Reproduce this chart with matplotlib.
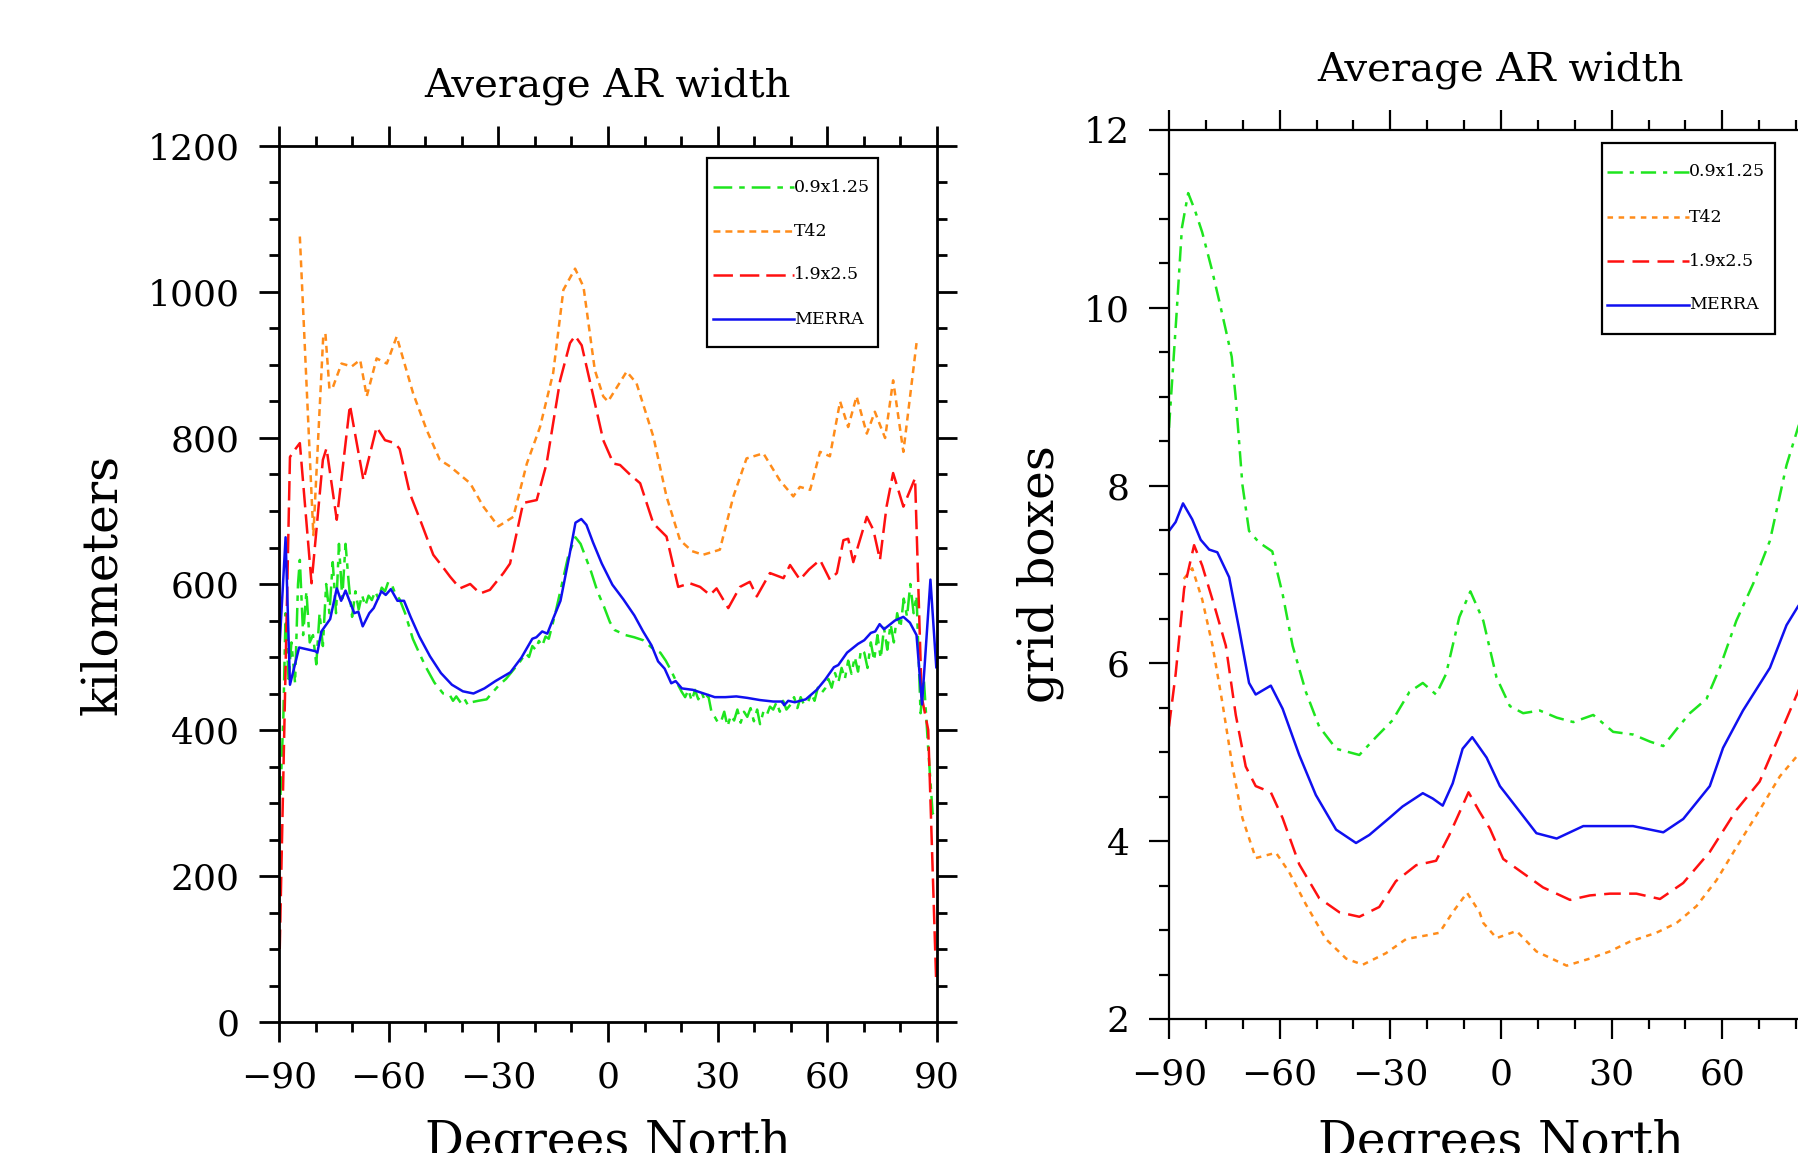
import matplotlib
matplotlib.use('Agg')
import matplotlib.pyplot as plt
from matplotlib.ticker import MultipleLocator
from matplotlib.lines import Line2D
from matplotlib.patches import Rectangle

plt.rcParams['font.family'] = ['DejaVu Serif']
plt.rcParams['lines.scale_dashes'] = False
plt.rcParams['axes.unicode_minus'] = True

# ---------------- data: left panel (kilometers) ----------------
series_labels = ['0.9x1.25', 'T42', '1.9x2.5', 'MERRA']

lat_km_f09 = [-89.6, -88.8, -88.2, -87.4, -86.6, -85.6, -84.8, -84.3, -83.4, -82.5, -81.6, -80.7, -79.8,
              -78.9, -78.0, -77.1, -76.2, -75.3, -74.4, -73.6, -72.7, -71.8, -70.9, -70.0, -69.1, -68.2,
              -67.3, -66.4, -65.5, -64.6, -63.7, -62.8, -61.9, -61.0, -60.1, -59.2, -58.3, -57.0, -55.5,
              -53.4, -51.6, -49.8, -47.5, -45.1, -43.3, -42.4, -41.5, -40.1, -39.2, -38.3, -37.4, -35.5,
              -33.2, -31.5, -29.7, -27.9, -26.1, -24.3, -22.5, -21.6, -20.7, -19.8, -18.9, -18.0, -17.1,
              -16.2, -14.4, -12.6, -10.8, -8.9, -7.5, -6.0, -4.7, -2.9, -1.1, 0.5, 1.8, 4.8, 7.2, 9.6,
              11.9, 14.3, 15.8, 17.3, 18.8, 20.2, 21.1, 22.0, 22.9, 23.8, 24.7, 25.6, 26.5, 27.4, 28.3,
              29.2, 30.1, 30.9, 31.8, 32.7, 33.6, 34.5, 35.4, 36.3, 37.2, 38.1, 39.0, 39.9, 40.8, 41.6,
              42.5, 43.4, 44.3, 45.2, 46.1, 47.0, 47.9, 48.8, 50.0, 50.9, 51.8, 52.7, 53.6, 54.7, 55.6,
              56.5, 57.4, 58.3, 59.4, 60.3, 61.2, 62.1, 63.0, 63.9, 64.8, 65.7, 66.6, 67.5, 68.4, 69.2,
              70.1, 71.0, 71.9, 72.8, 73.7, 74.6, 75.5, 76.4, 77.3, 78.2, 79.1, 80.0, 80.9, 81.8, 82.7,
              83.6, 84.4, 85.5, 86.4, 87.6, 88.8, 89.6]
km_f09 = [311, 420, 560, 470, 520, 464, 600, 633, 530, 590, 520, 530, 490,
          560, 515, 600, 560, 630, 560, 655, 580, 655, 600, 555, 590, 565,
          585, 570, 584, 578, 590, 580, 595, 590, 603, 600, 588, 579, 560,
          525, 505, 486, 465, 450, 448, 440, 446, 436, 442, 434, 438, 440,
          442, 452, 462, 470, 481, 492, 505, 500, 515, 510, 522, 515, 528,
          525, 560, 600, 640, 664, 655, 635, 618, 590, 569, 548, 537, 530, 527, 523,
          513, 506, 495, 481, 465, 452, 445, 455, 440, 455, 442, 452, 440, 448, 425,
          418, 410, 411, 425, 405, 420, 413, 428, 410, 425, 418, 430, 412, 428, 408,
          425, 420, 432, 428, 438, 425, 440, 428, 435, 445, 430, 445, 435, 438, 450,
          440, 458, 450, 457, 470, 458, 478, 465, 485, 470, 495, 477, 500, 480, 510,
          506, 485, 520, 495, 530, 498, 540, 510, 545, 520, 560, 540, 580, 555, 600,
          560, 584, 423, 470, 374, 286, 280]

lat_km_t42 = [-84.3, -80.6, -77.9, -77.3, -76.2, -75.3, -72.9, -70.1, -67.8, -66.0, -63.3, -60.5, -57.8,
              -53.3, -49.6, -46.0, -43.2, -37.7, -34.1, -30.0, -25.9, -22.2, -18.6, -15.0, -12.2, -9.0,
              -6.7, -3.6, -1.3, 0.0, 2.5, 5.1, 7.8, 12.4, 16.0, 19.7, 23.0, 26.0, 30.6, 34.3, 37.9, 42.5,
              47.0, 50.7, 52.5, 55.3, 58.0, 60.7, 63.5, 65.7, 68.0, 70.8, 73.0, 75.8, 78.0, 80.8, 84.4]
km_t42 = [1076, 667, 939, 943, 867, 869, 902, 898, 907, 857, 909, 902, 939,
          861, 811, 770, 761, 738, 706, 679, 692, 765, 815, 889, 1003, 1032,
          1007, 893, 857, 850, 870, 891, 875, 802, 720, 660, 645, 640, 647, 720, 772, 779,
          742, 720, 733, 729, 781, 775, 850, 815, 857, 806, 836, 800, 879, 781, 930]

lat_km_f19 = [-89.8, -87.0, -85.5, -84.3, -81.1, -78.0, -77.0, -74.2, -70.6, -66.9, -63.3, -61.0, -58.3,
              -57.0, -54.2, -51.4, -47.8, -45.0, -43.2, -40.5, -37.7, -35.0, -32.3, -28.6, -26.8, -23.2,
              -19.5, -16.8, -13.1, -10.4, -9.0, -7.2, -3.6, -1.3, 1.5, 3.3, 6.0, 8.8, 12.4, 16.0, 19.2,
              22.4, 25.2, 27.9, 29.7, 32.9, 36.1, 38.8, 40.7, 44.3, 48.0, 49.8, 52.5, 55.0, 58.0, 60.7,
              62.6, 64.4, 65.7, 67.1, 70.8, 72.6, 74.4, 76.2, 78.0, 80.8, 84.0, 85.8, 87.6, 89.8]
km_f19 = [100, 774, 785, 793, 601, 770, 786, 688, 845, 742, 815, 797, 793,
          785, 724, 688, 640, 622, 610, 594, 600, 587, 592, 615, 628, 711,
          715, 765, 879, 930, 940, 927, 848, 797, 765, 763, 750, 738, 683, 665, 596,
          601, 596, 585, 594, 567, 596, 603, 583, 615, 608, 626, 606, 620, 633, 606,
          615, 660, 662, 630, 692, 674, 633, 706, 752, 706, 745, 446, 400, 52]

lat_km_merra = [-90.0, -88.2, -87.0, -84.5, -80.1, -79.5, -78.4, -76.0, -74.2, -73.0, -71.8, -69.4, -68.3,
                -67.1, -65.3, -64.1, -62.0, -60.8, -59.4, -57.6, -55.8, -54.0, -51.6, -48.7, -45.7, -42.7,
                -39.7, -36.8, -33.8, -30.8, -26.7, -23.7, -20.7, -19.6, -18.0, -16.6, -14.8, -13.0, -10.6,
                -8.9, -7.3, -5.9, -4.1, -1.7, 1.2, 4.2, 7.2, 9.6, 11.9, 13.7, 15.5, 17.3, 18.5, 20.2, 23.2,
                26.2, 29.2, 32.1, 35.1, 38.1, 41.6, 45.2, 47.6, 48.2, 49.3, 51.1, 54.1, 57.1, 59.4, 61.8,
                63.0, 65.4, 68.4, 70.1, 71.9, 73.1, 74.3, 75.5, 78.5, 80.8, 82.6, 84.4, 85.9, 88.2, 89.8]
km_merra = [501, 664, 462, 513, 508, 506, 535, 552, 594, 577, 591, 560, 562,
            542, 560, 567, 590, 585, 593, 577, 577, 555, 528, 501, 478, 462,
            453, 450, 457, 467, 479, 499, 525, 527, 535, 532, 555, 577, 638,
            684, 689, 681, 657, 628, 599, 579, 557, 535, 516, 494, 484, 464, 467, 457, 455,
            450, 445, 445, 446, 444, 441, 439, 439, 434, 440, 438, 442, 455, 469, 486,
            489, 506, 518, 523, 533, 535, 545, 538, 550, 555, 547, 530, 435, 606, 486]

# ---------------- data: right panel (grid boxes) ----------------
lat_gb_f09 = [-90, -88, -86.5, -84.8, -83, -81, -78.5, -76.4, -74.6, -73, -71.9, -70.1, -68.3, -65.6,
              -62, -59.2, -56.5, -52.9, -49.3, -44.7, -38.4, -33.9, -29.4, -24.8, -21.2, -17.6, -14.9,
              -11.3, -8.3, -4.8, -1.2, 2.4, 6, 10.5, 15.1, 19.6, 25, 30.4, 35.8, 40.4, 44, 47.6, 51.2,
              55.7, 59.3, 63.8, 68.4, 72.9, 77.4, 80.5, 85, 90]
gb_f09 = [8.65, 9.9, 10.9, 11.29, 11.1, 10.85, 10.45, 10.08, 9.75, 9.45, 8.98, 8.01, 7.49, 7.36,
          7.26, 6.78, 6.2, 5.68, 5.29, 5.04, 4.97, 5.17, 5.36, 5.68, 5.78, 5.65, 5.88,
          6.52, 6.81, 6.48, 5.84, 5.52, 5.44, 5.47, 5.39, 5.34, 5.42, 5.23, 5.2, 5.12, 5.07, 5.26, 5.44,
          5.6, 5.95, 6.48, 6.9, 7.38, 8.23, 8.65, 9.2, 9.5]

lat_gb_t42 = [-86.0, -83.7, -81, -78.2, -75.5, -72.8, -70.1, -66.5, -61, -57.4, -52.9, -47.5, -42, -37.5,
              -31.2, -25.7, -20.3, -16.7, -13.1, -9.2, -5.8, -4.8, -1.2, 4.2, 9.6, 17.8, 24.1, 29.5, 34.9,
              42.1, 47.6, 53, 58.4, 63.8, 70.1, 75.6, 80.5, 85.5]
gb_t42 = [6.95, 7.07, 6.72, 6.2, 5.55, 4.84, 4.26, 3.81, 3.87, 3.65, 3.29, 2.9, 2.68, 2.61,
          2.74, 2.9, 2.94, 2.97, 3.2, 3.42, 3.2, 3.08, 2.91, 2.99, 2.76, 2.6, 2.68, 2.76, 2.87,
          2.97, 3.08, 3.27, 3.56, 3.93, 4.35, 4.73, 4.97, 5.3]

lat_gb_f19 = [-90, -88.2, -85.9, -83.2, -81, -77.3, -74.6, -71.9, -69.2, -66.5, -62.4, -59.2, -54.7,
              -49.3, -43.8, -38.4, -33, -28.5, -23, -17.6, -14, -8.8, -5.8, -3, 0.6, 6, 11.4, 18.7, 24.1,
              29.5, 36.7, 43.1, 49.4, 56.6, 63.8, 70.1, 75.6, 80.5, 85, 90]
gb_f19 = [5.29, 5.88, 6.84, 7.33, 7.1, 6.59, 6.2, 5.42, 4.84, 4.62, 4.55, 4.26, 3.74,
          3.36, 3.2, 3.15, 3.26, 3.55, 3.73, 3.78, 4.07, 4.55, 4.33, 4.14, 3.8, 3.64, 3.48, 3.34, 3.39,
          3.41, 3.41, 3.35, 3.53, 3.88, 4.35, 4.67, 5.2, 5.68, 6.1, 6.4]

lat_gb_merra = [-90, -88.2, -86.2, -83.7, -81.4, -79.1, -76.9, -73.7, -71, -68.3, -66.5, -62.4, -59.2,
                -54.7, -50.2, -44.7, -39.3, -35.7, -30.3, -26.7, -21.2, -18.5, -15.8, -13.1, -10.4, -7.8,
                -3.9, -0.3, 4.2, 9.6, 15.1, 22.3, 29.5, 35.8, 44, 49.4, 56.6, 60.2, 65.6, 72.9, 77.4,
                80.5, 85, 90]
gb_merra = [7.49, 7.59, 7.8, 7.62, 7.39, 7.28, 7.25, 6.97, 6.39, 5.78, 5.65, 5.75, 5.49,
            4.97, 4.52, 4.13, 3.98, 4.07, 4.26, 4.39, 4.54, 4.48, 4.4, 4.65, 5.04, 5.17,
            4.94, 4.62, 4.38, 4.09, 4.03, 4.17, 4.17, 4.17, 4.1, 4.25, 4.62, 5.05, 5.47, 5.95, 6.43,
            6.64, 6.9, 7.1]

x_ticks = [-90, -60, -30, 0, 30, 60, 90]
x_ticklabels_left = ['\u221290', '\u221260', '\u221230', '0', '30', '60', '90']
x_ticklabels_right = ['\u221290', '\u221260', '\u221230', '0', '30', '60', '']
km_ticks = [0, 200, 400, 600, 800, 1000, 1200]
gb_ticks = [2, 4, 6, 8, 10, 12]

# ---------------- figure ----------------
W, H = 1799, 1153
fig = plt.figure(figsize=(W / 100, H / 100), dpi=100)


def fx(px):
    return px / W


def fy(py):
    return 1 - py / H


colors = {'0.9x1.25': '#1ee51e', 'T42': '#ff8c1a', '1.9x2.5': '#ff1010', 'MERRA': '#1010f0'}
styles_L = {'0.9x1.25': (0, (13.5, 5, 4, 5)), 'T42': (0, (5, 3.6)),
            '1.9x2.5': (0, (14, 5)), 'MERRA': '-'}
styles_R = {'0.9x1.25': (0, (11, 5, 3, 5)), 'T42': (0, (4, 4)),
            '1.9x2.5': (0, (12, 6)), 'MERRA': '-'}

axL = fig.add_axes([fx(279), fy(1022), (937 - 279) / W, (1022 - 146) / H])
axR = fig.add_axes([fx(1169), fy(1019), (1833 - 1169) / W, (1019 - 130) / H])


def style_axes(ax, ymin, ymax, yticks, yminor, spine_lw, xlabels):
    ax.set_xlim(-90, 90)
    ax.set_ylim(ymin, ymax)
    ax.set_xticks(x_ticks)
    ax.set_xticklabels(xlabels)
    ax.set_yticks(yticks)
    ax.xaxis.set_minor_locator(MultipleLocator(10))
    ax.yaxis.set_minor_locator(MultipleLocator(yminor))
    for s in ax.spines.values():
        s.set_linewidth(spine_lw)
    ax.tick_params(which='both', direction='out', top=True, right=True,
                   labeltop=False, labelright=False, width=spine_lw)
    ax.tick_params(which='major', length=14.4, labelsize=26)
    ax.tick_params(which='minor', length=7.2)
    ax.tick_params(axis='x', which='major', pad=13)
    ax.tick_params(axis='y', which='major', pad=14)


style_axes(axL, 0, 1200, km_ticks, 50, 2.0, x_ticklabels_left)
style_axes(axR, 2, 12, gb_ticks, 0.5, 1.6, x_ticklabels_right)

left_data = [(lat_km_f09, km_f09), (lat_km_t42, km_t42), (lat_km_f19, km_f19), (lat_km_merra, km_merra)]
right_data = [(lat_gb_f09, gb_f09), (lat_gb_t42, gb_t42), (lat_gb_f19, gb_f19), (lat_gb_merra, gb_merra)]

for lab, (xs, ys) in zip(series_labels, left_data):
    axL.plot(xs, ys, color=colors[lab], linestyle=styles_L[lab], lw=1.8)
for lab, (xs, ys) in zip(series_labels, right_data):
    axR.plot(xs, ys, color=colors[lab], linestyle=styles_R[lab], lw=1.8)


def draw_legend(box, rows, line_x, text_x, styles):
    x0, y0, x1, y1 = box
    rect = Rectangle((fx(x0), fy(y1)), (x1 - x0) / W, (y1 - y0) / H, transform=fig.transFigure,
                     facecolor='white', edgecolor='black', lw=1.6, zorder=5)
    fig.add_artist(rect)
    for lab, yy in zip(series_labels, rows):
        ln = Line2D([fx(line_x[0]), fx(line_x[1])], [fy(yy), fy(yy)], transform=fig.transFigure,
                    color=colors[lab], linestyle=styles[lab], lw=1.8, zorder=6)
        fig.add_artist(ln)
        fig.text(fx(text_x), fy(yy), lab, ha='left', va='center', fontsize=12.5, zorder=7)


draw_legend((707, 158, 878, 347), [187, 231, 275, 319], (713, 794), 794, styles_L)
draw_legend((1602, 143, 1775, 334), [172, 217, 261, 305], (1607, 1689), 1689, styles_R)

# titles and axis labels
fig.text(fx(608), fy(97), 'Average AR width', ha='center', va='baseline', fontsize=29)
fig.text(fx(1501), fy(81), 'Average AR width', ha='center', va='baseline', fontsize=29)
fig.text(fx(103), fy(584), 'kilometers', rotation=90, ha='center', va='center', fontsize=35)
fig.text(fx(1040), fy(574), 'grid boxes', rotation=90, ha='center', va='center', fontsize=35)
fig.text(fx(608), fy(1118), 'Degrees North', ha='center', va='top', fontsize=35)
fig.text(fx(1501), fy(1118), 'Degrees North', ha='center', va='top', fontsize=35)

fig.savefig('out.png', dpi=100, facecolor='white')
